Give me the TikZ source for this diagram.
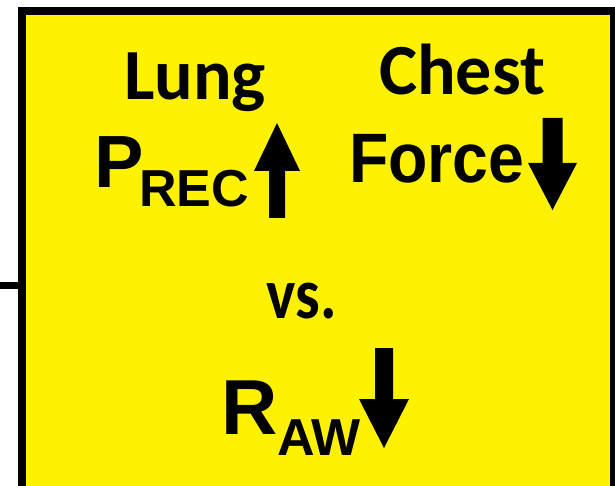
\documentclass[tikz,border=0pt]{standalone}
\usepackage{fontspec}
\setmainfont{Carlito}
\newfontfamily\calb{Carlito}[BoldFont=* Bold]
\newfontfamily\arib{Liberation Sans Bold}
\begin{document}
\begin{tikzpicture}[x=1pt,y=-1pt,
  cal/.style={inner sep=0pt,anchor=base west,font=\calb\bfseries\fontsize{72}{80}\selectfont},
  ari/.style={inner sep=0pt,anchor=base west,font=\arib\fontsize{#1}{#1}\selectfont},
  blockarrow/.style={fill=black,draw=none}]
\useasboundingbox (0,0) rectangle (615,486);
\node (box) [draw=black,line width=8pt,fill=yellow,inner sep=0pt,
  minimum width=592pt,minimum height=489pt] at (318,255.5) {};
\coordinate (lend) at (0,285);
\draw[line width=7pt] (lend) -- (lend -| box.west);
% texts
\node (lung) [cal] at (124,100) {Lung};
\node (chest) [cal] at (379,95) {Chest};
\node (force) [ari=70,xscale=0.92] at (349,183) {Force};
\node (p) [ari=74] at (94,188) {P};
\node (rec) [ari=52] at (139,207) {REC};
\node (vs) [cal,xscale=0.86] at (266,318) {vs.};
\node (r) [ari=78] at (221,434) {R};
\node (aw) [ari=52] at (277,455) {AW};
% arrows
\fill[blockarrow] (277,123) -- (300,171) -- (285,171) -- (285,218) -- (269,218) -- (269,171) -- (254,171) -- cycle;
\fill[blockarrow] (552.5,210) -- (577,163) -- (562.5,163) -- (562.5,118) -- (542.5,118) -- (542.5,163) -- (528,163) -- cycle;
\fill[blockarrow] (384,448) -- (409,399) -- (393,399) -- (393,348) -- (375,348) -- (375,399) -- (359,399) -- cycle;
\end{tikzpicture}
\end{document}
